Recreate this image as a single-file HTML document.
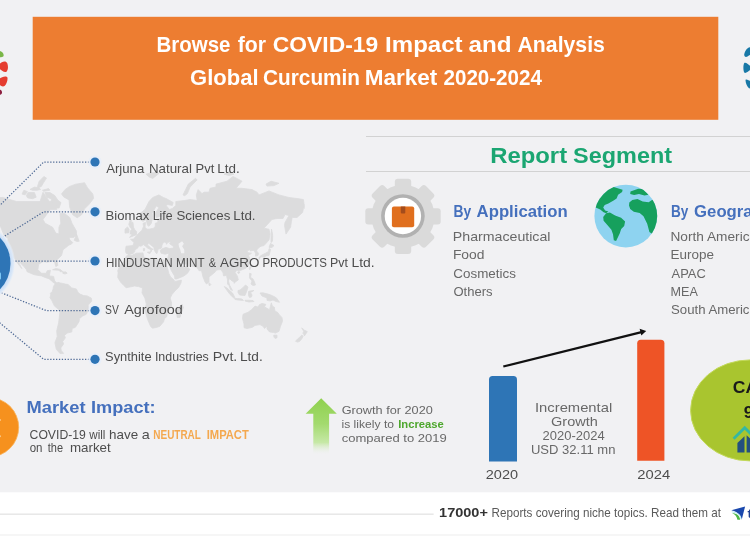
<!DOCTYPE html>
<html><head><meta charset="utf-8"><title>Global Curcumin Market 2020-2024</title>
<style>html,body{margin:0;padding:0;background:#fff}body{width:750px;height:536px;overflow:hidden;font-family:"Liberation Sans",sans-serif}#stage{position:relative;width:750px;height:536px;overflow:hidden}#stage svg{position:absolute;left:-20px;top:-20px;display:block;filter:blur(0.6px)}</style></head>
<body>
<div id="stage">
<svg width="790" height="576" viewBox="-20 -20 790 576" font-family="Liberation Sans, sans-serif">
<defs>
<linearGradient id="ga" x1="0" y1="0" x2="0" y2="1"><stop offset="0" stop-color="#8fd14f"/><stop offset="0.45" stop-color="#a3da6e"/><stop offset="0.78" stop-color="#c6e8a6"/><stop offset="1" stop-color="#f1f1f3" stop-opacity="0"/></linearGradient>
<radialGradient id="glow" cx="0.5" cy="0.5" r="0.5"><stop offset="0.88" stop-color="#c9def7"/><stop offset="0.95" stop-color="#dde9f8"/><stop offset="1" stop-color="#eef1f6" stop-opacity="0"/></radialGradient>
<clipPath id="gc"><circle cx="625.8" cy="216.1" r="31.4"/></clipPath>
</defs>
<rect x="-20" y="-20" width="790" height="576" fill="#fff"/>
<rect x="-20" y="-20" width="790" height="512.3" fill="#f1f1f3"/>
<path d="M-38.9,205.5 -32.6,197.5 -26.4,194.9 -10.7,197.5 2.9,197.5 16.5,201.5 23.9,201.5 40.1,201.5 43.0,192.2 49.4,201.5 55.8,199.5 56.8,209.5 50.4,209.5 43.0,219.4 45.1,223.3 52.6,227.2 55.8,233.1 58.9,234.1 58.9,227.2 60.8,223.3 60.0,213.5 64.5,213.5 69.8,217.5 72.0,223.3 76.5,231.2 76.5,235.1 73.5,237.4 69.0,237.4 69.8,240.0 72.8,242.5 71.2,244.3 69.0,245.0 66.0,247.4 63.0,249.8 61.5,255.5 56.8,260.0 57.9,265.4 55.8,266.5 54.7,262.2 52.6,261.1 47.2,262.2 43.0,261.6 38.6,264.3 37.9,269.7 41.5,273.3 46.2,273.3 47.2,270.7 50.4,270.2 49.4,275.9 53.6,276.4 54.7,281.0 56.8,283.0 58.9,282.5 60.8,284.0 60.0,285.0 57.9,284.5 54.7,283.5 51.5,281.0 49.4,278.9 45.1,277.4 41.5,275.9 34.3,274.8 27.0,271.7 26.5,269.7 23.9,266.5 19.7,262.2 17.1,259.4 19.7,264.3 21.8,268.6 17.6,263.3 14.4,258.3 10.8,256.1 9.2,253.2 7.1,249.8 7.1,242.5 8.2,238.7 4.0,235.1 0.8,227.2 -3.3,221.4 -7.5,218.5 -15.9,216.5 -22.2,219.4 -24.3,223.3 -30.5,226.3 -34.7,228.2 -28.4,220.4 -32.6,219.4 -35.8,213.5 -31.6,209.5 -35.8,208.5ZM74.2,240.3 76.5,234.1 79.2,241.2 77.0,241.5ZM49.9,192.5 54.8,195.6 57.9,200.2 61.0,202.6 59.1,208.0 56.0,208.0 53.0,204.9 51.1,198.7 46.8,197.2 44.9,192.5ZM26.3,195.6 28.2,192.5 34.4,192.5 36.2,197.2 32.5,198.7 27.6,197.9ZM37.5,186.4 39.1,181.4 43.9,176.5 46.5,178.1 43.3,183.1 41.4,186.4 38.1,188.0ZM22.0,194.1 23.9,190.2 27.6,191.7 25.1,194.8ZM30.0,189.4 34.4,187.1 38.7,187.8 40.6,189.4 37.5,190.2 32.5,190.2ZM42.4,190.2 48.6,188.6 49.9,190.2 43.7,191.3ZM53.5,286.3 55.4,283.6 58.1,282.7 61.7,283.2 65.4,284.1 68.1,284.5 71.8,288.0 76.3,288.9 78.1,292.4 80.0,294.1 83.6,295.5 87.2,295.9 91.3,298.1 91.8,301.1 88.2,305.1 88.2,310.2 86.3,314.3 82.7,315.9 79.5,318.6 79.0,321.8 75.4,327.3 72.2,328.5 71.8,331.9 67.2,333.1 64.5,335.4 65.4,337.8 62.7,341.5 63.6,344.0 60.8,347.9 61.3,350.6 63.6,353.4 59.9,353.4 56.3,349.3 54.9,342.8 57.2,336.6 56.7,330.8 58.6,322.9 59.9,312.3 59.0,309.7 54.5,306.1 51.7,300.3 49.9,297.6 50.8,295.0 50.4,293.3 52.2,291.5 53.1,288.9ZM128.0,254.6 131.7,255.5 136.4,253.2 143.0,252.9 143.9,257.2 147.7,258.9 152.4,258.0 157.0,259.2 161.7,259.7 164.1,260.0 166.0,263.3 167.4,267.5 168.8,273.3 170.6,276.9 173.9,279.9 174.9,281.5 181.4,280.1 181.0,283.0 178.6,287.5 174.9,291.0 172.0,294.5 170.2,298.0 171.6,303.0 171.6,307.1 167.4,311.2 166.9,316.5 164.5,318.6 163.6,321.8 159.9,326.2 157.0,327.3 152.4,328.2 150.5,326.2 147.7,319.7 144.9,310.2 146.3,304.1 144.9,298.0 142.0,293.0 142.5,288.0 138.3,286.5 134.5,286.0 129.9,287.0 126.1,287.7 123.3,285.0 120.5,282.0 117.7,277.4 118.1,272.8 117.7,270.7 119.5,266.5 121.4,263.6 124.2,261.1 124.7,258.3ZM182.1,304.1 183.3,307.6 180.9,314.3 180.0,317.5 177.2,317.5 176.7,313.3 177.6,308.6 180.0,306.6ZM126.0,253.2 125.5,250.9 126.0,246.2 133.0,245.6 134.0,242.5 130.5,239.3 133.5,239.1 137.0,235.1 139.0,233.1 142.0,230.2 143.5,226.3 143.0,223.3 145.5,222.4 145.0,227.2 147.0,229.2 149.0,229.2 153.6,228.2 155.3,226.3 155.3,223.3 158.0,222.4 157.6,219.4 161.6,218.1 163.4,217.5 159.8,216.5 156.2,217.5 155.3,213.5 158.9,207.5 156.2,205.9 152.2,213.5 152.7,217.5 151.3,223.3 149.0,226.3 147.5,225.3 146.0,219.4 143.0,221.4 140.0,219.4 140.0,213.5 145.0,209.5 149.0,201.5 152.7,197.5 158.9,194.9 163.4,197.5 166.0,198.5 173.2,202.5 172.3,205.5 167.8,204.5 166.0,205.5 169.6,209.5 172.3,208.5 175.8,205.5 175.8,201.5 184.7,200.5 190.1,199.5 197.2,200.5 196.3,194.9 198.1,189.6 202.0,193.6 204.0,192.2 209.0,192.2 210.0,188.3 216.0,187.0 216.0,184.1 227.0,181.2 233.0,176.4 242.0,181.2 236.0,188.3 242.0,188.3 252.0,189.6 257.0,192.2 259.0,194.9 269.0,190.9 279.0,194.9 289.0,197.5 297.0,198.5 303.4,199.5 304.0,203.5 304.4,205.5 304.1,208.5 303.6,207.5 303.4,208.5 302.6,212.5 297.0,217.5 292.2,217.5 291.4,221.4 290.6,227.2 286.0,234.1 284.5,225.3 285.0,222.4 289.0,215.5 285.0,214.5 283.0,218.5 277.0,218.5 272.0,219.4 264.0,228.2 269.0,229.2 270.0,234.1 269.0,240.0 264.0,245.6 261.0,246.2 259.0,247.4 257.0,249.8 256.5,250.9 258.5,253.2 258.0,255.5 255.5,256.1 255.5,253.2 254.0,250.3 250.0,250.9 251.0,249.2 247.0,250.9 248.0,252.7 251.5,253.2 248.5,255.5 250.0,258.9 251.0,261.1 249.0,264.9 246.0,268.1 242.5,269.7 239.5,270.7 237.0,270.2 235.0,272.3 237.5,276.4 238.3,279.9 236.0,281.5 234.0,283.3 234.0,281.5 232.0,281.0 229.5,278.4 228.5,281.0 229.5,285.0 232.5,290.5 230.5,289.5 229.0,285.5 227.5,284.0 227.5,279.9 226.5,275.4 223.5,275.9 223.0,272.8 221.0,269.7 219.0,269.7 216.0,270.2 215.5,271.7 211.0,275.4 209.0,276.9 209.0,282.0 206.5,284.0 205.0,282.0 203.0,276.9 202.0,272.8 201.5,270.7 199.0,270.7 198.1,269.3 196.3,267.0 191.9,266.3 187.4,266.0 187.0,264.3 182.1,263.5 181.2,261.1 179.4,261.1 179.8,262.7 181.2,264.9 182.5,267.0 184.7,267.5 186.8,265.4 187.0,267.0 189.9,269.1 187.9,272.8 185.6,274.8 183.0,276.4 176.7,278.9 174.9,278.9 174.5,275.9 171.4,270.7 169.6,266.5 167.8,263.3 167.4,261.6 165.6,261.1 165.6,260.0 167.4,259.4 168.7,254.4 168.7,253.2 165.1,254.2 163.4,253.8 161.1,253.2 160.2,250.3 162.5,248.6 166.0,247.4 169.6,248.6 173.6,248.0 173.2,246.2 169.6,243.7 170.9,241.2 167.8,242.5 166.5,244.3 166.0,242.5 163.8,241.9 162.0,245.0 161.6,248.0 159.8,248.8 158.0,249.2 157.6,252.1 156.7,253.8 155.3,252.1 154.0,249.2 154.0,247.4 150.0,244.3 148.5,243.1 147.5,245.0 150.9,248.0 153.1,249.5 151.8,249.2 151.3,251.5 150.6,252.1 150.9,249.8 147.5,248.0 145.5,246.2 143.5,244.6 141.0,246.2 138.5,245.8 138.0,247.7 135.0,249.8 134.5,252.1 133.0,253.5 129.5,254.4ZM129.5,237.4 136.5,234.7 136.7,231.5 135.0,230.2 133.5,227.2 133.0,222.4 131.0,222.0 131.5,220.2 130.0,220.2 128.8,224.3 130.0,227.2 132.0,229.2 130.5,230.6 130.5,233.1 129.8,233.7 132.0,234.5ZM125.0,233.1 129.0,232.7 129.0,229.2 127.5,226.9 125.0,229.2ZM259.0,259.4 260.5,257.2 262.0,256.7 264.5,257.2 266.0,255.9 269.0,255.5 270.0,252.1 270.5,249.2 269.0,248.6 268.5,251.5 265.5,253.2 262.0,255.0 260.0,256.3 259.0,257.8ZM269.0,247.4 270.5,243.4 274.0,245.6 272.0,247.4ZM271.0,242.5 271.0,237.4 271.5,229.2 272.7,235.1 272.5,241.2ZM209.0,282.5 210.8,284.5 209.5,286.0 208.8,284.0ZM250.0,266.5 251.0,267.0 249.8,269.7 249.2,268.6ZM238.0,271.7 240.0,271.9 239.0,273.5 237.7,273.0ZM249.5,273.3 251.2,273.8 250.5,277.4 253.0,278.9 254.5,282.0 255.5,285.0 253.0,285.5 251.0,284.0 252.0,281.0 249.5,277.9ZM238.0,290.5 240.0,290.0 242.5,288.0 245.5,285.0 248.0,287.0 246.8,291.0 245.0,295.5 242.0,295.3 239.5,295.0 238.0,292.5ZM224.3,286.5 227.0,288.0 232.5,293.0 235.0,297.8 233.5,297.8 230.0,294.5 227.0,290.5ZM234.5,298.5 237.5,298.5 242.0,299.0 243.5,300.5 238.0,300.0 235.0,299.5ZM245.0,300.3 249.0,300.3 253.0,300.5 254.0,301.5 249.0,302.0 245.0,301.0ZM248.5,291.5 250.0,291.0 254.0,290.5 250.5,292.5 252.0,295.0 251.5,297.0 249.5,297.5 248.5,295.5ZM260.0,293.0 263.0,292.8 267.0,293.8 270.0,294.7 274.0,296.5 276.5,298.0 279.5,302.3 276.0,301.5 273.0,300.0 270.0,301.0 267.0,300.3 267.0,298.0 262.0,296.0 261.0,294.5ZM243.0,314.3 242.5,318.6 244.0,324.0 244.0,327.7 247.0,328.5 252.5,327.3 255.0,325.4 260.0,324.6 263.0,326.2 264.5,328.5 267.0,326.2 267.0,329.0 269.5,331.9 273.5,332.5 275.5,333.1 279.0,331.3 280.5,326.2 282.5,321.3 282.0,317.5 279.5,314.9 277.5,312.3 275.0,311.2 274.3,307.1 272.5,306.4 271.3,302.8 270.5,306.1 269.5,309.7 266.5,308.1 264.5,306.9 265.8,304.3 262.0,303.5 259.5,304.6 258.0,307.1 255.0,306.1 251.5,309.7 248.0,312.3ZM273.7,335.2 277.0,335.2 277.0,337.8 275.0,338.4 274.0,337.2ZM301.7,327.9 304.5,330.2 307.3,331.6 306.0,333.7 304.3,336.0 303.8,334.0 302.8,333.4 303.7,331.3ZM301.8,335.0 303.2,336.3 301.8,338.8 299.5,341.5 297.5,342.1 295.5,341.3 297.5,339.0 300.0,337.0ZM183.0,194.9 185.6,189.6 188.3,184.1 195.4,178.4 197.2,179.8 190.1,187.0 187.4,193.6 184.7,195.7ZM146.0,174.2 150.0,173.0 156.2,172.6 158.9,173.6 152.7,178.4 149.0,176.9ZM52.6,269.7 55.8,268.6 60.0,269.3 62.8,271.5 60.4,271.8 58.9,270.2 53.6,269.9ZM62.8,271.9 66.0,271.9 67.1,273.3 64.9,274.0 62.8,273.3ZM147.5,252.1 150.4,251.9 150.0,253.6 147.7,252.7ZM143.3,248.6 144.7,248.6 144.5,250.7 143.5,250.9ZM266.0,184.1 271.0,181.2 279.0,183.3 274.0,185.6 267.0,186.1ZM224.0,174.2 229.0,171.8 234.0,174.2 229.0,175.5ZM61.5,193.9 65.2,189.4 69.7,186.4 75.7,184.2 84.6,182.7 87.6,187.9 92.8,193.9 93.6,198.4 89.1,204.3 84.6,208.8 81.6,214.8 77.2,217.8 72.7,214.8 69.7,207.3 69.0,199.9 63.7,196.9Z" fill="#dcdcdd" stroke="#dcdcdd" stroke-width="0.8" stroke-linejoin="round"/>
<path d="M178.5,243.7 182.1,241.2 183.9,243.7 182.1,246.2 184.3,249.8 184.3,253.2 181.2,253.2 180.3,249.8 179.0,246.8Z" fill="#f1f1f3"/>
<rect x="32.7" y="16.8" width="685.6" height="103" fill="#ed7d31"/>
<path d="M-8,50 C1,49.5 4,53 3.6,56 C3,57.5 0,57.5 -8,57Z" fill="#7ab648"/>
<path d="M-8,68 L-1,64.5 C2,61 6,60.5 7.2,63 C8.4,66 8.2,70 6.5,71.8 C4.5,73 1,70 -1,68.5Z" fill="#e53d30"/>
<path d="M-8,82 L-1,79 C2,76.5 6.5,75.5 7.4,77.5 C8,80 6.5,84.5 4.5,86 C2.5,87.2 0.5,85.5 -1,84.5Z" fill="#e53d30"/>
<path d="M-8,89.5 L-1,89.5 C1,89.5 2.2,91 2,93 C1.6,94.6 0,95 -1,95 L-8,95Z" fill="#8c1f3f"/>
<path d="M758,45 L751,47 C748,47 745,50 744.2,54.5 C744,56.5 745.5,57.5 747.5,56.5 C749,55.5 750,54.5 751,54.5 L758,54Z" fill="#1878a6"/>
<path d="M758,68 L751,66.5 C748.5,64.5 746,62.2 744.5,62.8 C743,64 743,71.5 744.5,72.8 C746,73.6 748.5,71 751,69.5Z" fill="#1878a6"/>
<path d="M758,82 L751,81.5 C749,80.5 746.5,79 745.6,79.8 C745.2,82 747,86.5 749,88.3 C749.8,88.8 750.5,88 751,87.5 L758,88Z" fill="#1878a6"/>
<path d="M95,162 H43.7 L-10,215.1" fill="none" stroke="#506b96" stroke-width="1.25" stroke-dasharray="1.3 1.6"/>
<path d="M95,211.8 H43.7 L-10,245.1" fill="none" stroke="#506b96" stroke-width="1.25" stroke-dasharray="1.3 1.6"/>
<path d="M95,261 H8" fill="none" stroke="#506b96" stroke-width="1.25" stroke-dasharray="1.3 1.6"/>
<path d="M95,310.6 H46.2 L-10,288.2" fill="none" stroke="#506b96" stroke-width="1.25" stroke-dasharray="1.3 1.6"/>
<path d="M95,359.3 H43.7 L-10,314.8" fill="none" stroke="#506b96" stroke-width="1.25" stroke-dasharray="1.3 1.6"/>
<circle cx="-26.5" cy="263.5" r="42" fill="url(#glow)"/>
<circle cx="-26.5" cy="263.5" r="37" fill="#2e75b6"/>
<rect x="-6" y="272.5" width="7" height="7" rx="1" fill="#7cc7f5"/>
<circle cx="95" cy="162" r="6.6" fill="#e6eefa" opacity="0.85"/>
<circle cx="95" cy="162" r="4.6" fill="#2e75b6"/>
<circle cx="95" cy="211.8" r="6.6" fill="#e6eefa" opacity="0.85"/>
<circle cx="95" cy="211.8" r="4.6" fill="#2e75b6"/>
<circle cx="95" cy="261" r="6.6" fill="#e6eefa" opacity="0.85"/>
<circle cx="95" cy="261" r="4.6" fill="#2e75b6"/>
<circle cx="95" cy="310.6" r="6.6" fill="#e6eefa" opacity="0.85"/>
<circle cx="95" cy="310.6" r="4.6" fill="#2e75b6"/>
<circle cx="95" cy="359.3" r="6.6" fill="#e6eefa" opacity="0.85"/>
<circle cx="95" cy="359.3" r="4.6" fill="#2e75b6"/>
<rect x="366" y="136" width="400" height="1" fill="#d2d2d2"/>
<rect x="366" y="171" width="400" height="1" fill="#d2d2d2"/>
<g fill="#dadada">
<circle cx="403.0" cy="216.4" r="31.6"/>
<rect x="394.8" y="178.7" width="16.4" height="75.4" rx="3" transform="rotate(0 403.0 216.4)"/>
<rect x="394.8" y="178.7" width="16.4" height="75.4" rx="3" transform="rotate(45 403.0 216.4)"/>
<rect x="394.8" y="178.7" width="16.4" height="75.4" rx="3" transform="rotate(90 403.0 216.4)"/>
<rect x="394.8" y="178.7" width="16.4" height="75.4" rx="3" transform="rotate(135 403.0 216.4)"/>
</g>
<circle cx="402.9" cy="216" r="21.8" fill="#b1b1b1"/>
<circle cx="402.9" cy="216" r="18.2" fill="#fff"/>
<rect x="391.9" y="206.4" width="22.3" height="20.8" rx="2" fill="#e06f1e"/>
<path d="M400.8,206.4 h4.5 v6.2 a1,1 0 0 1 -1,1 h-2.5 a1,1 0 0 1 -1,-1Z" fill="#a34c1c"/>
<circle cx="625.8" cy="216.1" r="31.4" fill="#8ed3f0"/>
<g clip-path="url(#gc)" fill="#16a05d">
<path d="M612.1,186.4 622.6,189.7 622.1,192.1 618.1,194.7 616.6,198.4 613.6,200.6 608.4,203.6 604.7,205.1 603.2,207.6 605.1,210.6 608.4,211.5 606.1,213.3 603.6,212.3 600.2,209.6 592.0,205.9 592.0,185.0Z"/>
<path d="M603.2,217.0 606.1,213.3 609.9,212.6 615.1,215.6 621.1,217.8 625.1,221.5 624.2,226.0 621.2,229.0 619.7,233.5 616.1,240.9 613.8,240.2 613.0,234.2 611.4,229.7 606.9,224.5 603.6,220.8Z"/>
<path d="M630.5,191.4 638.2,188.7 643.5,189.1 648.4,194.7 644.5,195.6 639.0,193.9 634.1,195.0 630.2,193.9Z"/>
<path d="M629.3,202.6 632.3,199.9 637.5,199.0 642.7,201.4 648.7,202.3 652.0,199.9 660.6,198.4 660.6,235.7 652.4,233.9 649.4,232.0 647.2,223.8 643.5,216.3 639.7,212.9 633.8,211.8 630.2,209.1 629.0,205.4Z"/>
</g>
<path d="M489,461.6 V379.7 a3.6,3.6 0 0 1 3.6,-3.6 h20.8 a3.6,3.6 0 0 1 3.6,3.6 V461.6Z" fill="#2e75b6"/>
<path d="M637.2,460.8 V343.3 a3.6,3.6 0 0 1 3.6,-3.6 h20 a3.6,3.6 0 0 1 3.6,3.6 V460.8Z" fill="#ee5426"/>
<path d="M503.3,366.5 L641.5,332.2" stroke="#111" stroke-width="2.3" fill="none"/>
<path d="M646.2,331 L639.6,328.8 L641.3,335.6Z" fill="#111"/>
<path d="M321.2,398.2 L336.8,413.8 H329.1 V455 H313.3 V413.8 H305.6Z" fill="url(#ga)"/>
<circle cx="-10.9" cy="427.3" r="29.6" fill="#f6911e" stroke="#f9b45c" stroke-width="0.8"/>
<rect x="-6" y="419" width="7" height="2" rx="1" fill="#fbc98a"/><rect x="-6" y="435.2" width="7" height="2" rx="1" fill="#fbc98a"/>
<ellipse cx="750" cy="410.4" rx="59.4" ry="50.5" fill="#a9c52f" stroke="#c3d95a" stroke-width="1"/>
<path d="M733.6,438.8 L744.7,427.7 L757,440" fill="none" stroke="#35b8a2" stroke-width="2.8" stroke-linejoin="miter"/>
<path d="M737.4,443 L744.5,436.3 V452.6 H737.4Z" fill="#24507f"/>
<path d="M746.6,435.2 L756,444 V452.6 H746.6Z" fill="#24507f"/>
<rect x="-20" y="513.6" width="453.6" height="1.1" fill="#dedede"/>
<rect x="-20" y="534" width="790" height="22" fill="#f6f6f6"/>
<path d="M731.3,510.3 L745.1,506.5 L741.7,519.8 C741.4,516 739,512.3 731.3,510.3Z" fill="#1a48ad"/>
<path d="M732.1,513 C737,513.4 739.8,516 740.2,519.8 L737.4,519.8 C737,516.8 735.2,514.6 732.1,513Z" fill="#4fb848"/>
<path d="M731.8,511.8 C738,512.6 740.6,515.6 741,519" fill="none" stroke="#9fe3f0" stroke-width="0.8"/>
<text x="156.6" y="51.8" font-size="21.8" font-weight="700" fill="#fff" textLength="73.9" lengthAdjust="spacingAndGlyphs">Browse</text>
<text x="237.8" y="51.8" font-size="21.8" font-weight="700" fill="#fff" textLength="28.3" lengthAdjust="spacingAndGlyphs">for</text>
<text x="272.8" y="51.8" font-size="21.8" font-weight="700" fill="#fff" textLength="105.4" lengthAdjust="spacingAndGlyphs">COVID-19</text>
<text x="385.1" y="51.8" font-size="21.8" font-weight="700" fill="#fff" textLength="77.5" lengthAdjust="spacingAndGlyphs">Impact</text>
<text x="468.6" y="51.8" font-size="21.8" font-weight="700" fill="#fff" textLength="43.0" lengthAdjust="spacingAndGlyphs">and</text>
<text x="517.5" y="51.8" font-size="21.8" font-weight="700" fill="#fff" textLength="87.4" lengthAdjust="spacingAndGlyphs">Analysis</text>
<text x="190.1" y="85.1" font-size="22.2" font-weight="700" fill="#fff" textLength="68.5" lengthAdjust="spacingAndGlyphs">Global</text>
<text x="263.1" y="85.1" font-size="22.2" font-weight="700" fill="#fff" textLength="96.9" lengthAdjust="spacingAndGlyphs">Curcumin</text>
<text x="364.8" y="85.1" font-size="22.2" font-weight="700" fill="#fff" textLength="72.5" lengthAdjust="spacingAndGlyphs">Market</text>
<text x="443.5" y="85.1" font-size="22.2" font-weight="700" fill="#fff" textLength="98.4" lengthAdjust="spacingAndGlyphs">2020-2024</text>
<text x="106.2" y="172.8" font-size="12.7" font-weight="400" fill="#4d4d4d" textLength="38.1" lengthAdjust="spacingAndGlyphs">Arjuna</text>
<text x="148.9" y="172.8" font-size="12.7" font-weight="400" fill="#4d4d4d" textLength="43.0" lengthAdjust="spacingAndGlyphs">Natural</text>
<text x="195.5" y="172.8" font-size="12.7" font-weight="400" fill="#4d4d4d" textLength="18.8" lengthAdjust="spacingAndGlyphs">Pvt</text>
<text x="217.3" y="172.8" font-size="12.7" font-weight="400" fill="#4d4d4d" textLength="22.4" lengthAdjust="spacingAndGlyphs">Ltd.</text>
<text x="105.6" y="219.9" font-size="12.7" font-weight="400" fill="#4d4d4d" textLength="43.7" lengthAdjust="spacingAndGlyphs">Biomax</text>
<text x="152.8" y="219.9" font-size="12.7" font-weight="400" fill="#4d4d4d" textLength="19.8" lengthAdjust="spacingAndGlyphs">Life</text>
<text x="176.4" y="219.9" font-size="12.7" font-weight="400" fill="#4d4d4d" textLength="53.9" lengthAdjust="spacingAndGlyphs">Sciences</text>
<text x="233.3" y="219.9" font-size="12.7" font-weight="400" fill="#4d4d4d" textLength="22.3" lengthAdjust="spacingAndGlyphs">Ltd.</text>
<text x="106.0" y="267.1" font-size="12.7" font-weight="400" fill="#4d4d4d" textLength="66.6" lengthAdjust="spacingAndGlyphs">HINDUSTAN</text>
<text x="176.1" y="267.1" font-size="12.7" font-weight="400" fill="#4d4d4d" textLength="28.4" lengthAdjust="spacingAndGlyphs">MINT</text>
<text x="208.8" y="267.1" font-size="12.7" font-weight="400" fill="#4d4d4d" textLength="7.4" lengthAdjust="spacingAndGlyphs">&amp;</text>
<text x="220.1" y="267.1" font-size="12.7" font-weight="400" fill="#4d4d4d" textLength="39.3" lengthAdjust="spacingAndGlyphs">AGRO</text>
<text x="262.4" y="267.1" font-size="12.7" font-weight="400" fill="#4d4d4d" textLength="64.5" lengthAdjust="spacingAndGlyphs">PRODUCTS</text>
<text x="330.1" y="267.1" font-size="12.7" font-weight="400" fill="#4d4d4d" textLength="17.9" lengthAdjust="spacingAndGlyphs">Pvt</text>
<text x="351.5" y="267.1" font-size="12.7" font-weight="400" fill="#4d4d4d" textLength="23.2" lengthAdjust="spacingAndGlyphs">Ltd.</text>
<text x="105.1" y="314.3" font-size="12.7" font-weight="400" fill="#4d4d4d" textLength="13.8" lengthAdjust="spacingAndGlyphs">SV</text>
<text x="124.2" y="314.3" font-size="12.7" font-weight="400" fill="#4d4d4d" textLength="58.5" lengthAdjust="spacingAndGlyphs">Agrofood</text>
<text x="105.1" y="361.2" font-size="12.7" font-weight="400" fill="#4d4d4d" textLength="46.5" lengthAdjust="spacingAndGlyphs">Synthite</text>
<text x="154.9" y="361.2" font-size="12.7" font-weight="400" fill="#4d4d4d" textLength="53.9" lengthAdjust="spacingAndGlyphs">Industries</text>
<text x="212.8" y="361.2" font-size="12.7" font-weight="400" fill="#4d4d4d" textLength="24.5" lengthAdjust="spacingAndGlyphs">Pvt.</text>
<text x="239.9" y="361.2" font-size="12.7" font-weight="400" fill="#4d4d4d" textLength="22.8" lengthAdjust="spacingAndGlyphs">Ltd.</text>
<text x="490.2" y="163.0" font-size="21.5" font-weight="700" fill="#1ba672" textLength="76.9" lengthAdjust="spacingAndGlyphs">Report</text>
<text x="573.1" y="163.0" font-size="21.5" font-weight="700" fill="#1ba672" textLength="99.0" lengthAdjust="spacingAndGlyphs">Segment</text>
<text x="453.4" y="216.9" font-size="15.7" font-weight="700" fill="#4570bd" textLength="17.7" lengthAdjust="spacingAndGlyphs">By</text>
<text x="476.6" y="216.9" font-size="15.7" font-weight="700" fill="#4570bd" textLength="91.1" lengthAdjust="spacingAndGlyphs">Application</text>
<text x="452.8" y="241.2" font-size="12.4" font-weight="400" fill="#686868" textLength="97.7" lengthAdjust="spacingAndGlyphs">Pharmaceutical</text>
<text x="452.9" y="259.3" font-size="12.4" font-weight="400" fill="#686868" textLength="31.6" lengthAdjust="spacingAndGlyphs">Food</text>
<text x="453.3" y="277.5" font-size="12.4" font-weight="400" fill="#686868" textLength="62.6" lengthAdjust="spacingAndGlyphs">Cosmetics</text>
<text x="453.4" y="295.6" font-size="12.4" font-weight="400" fill="#686868" textLength="39.1" lengthAdjust="spacingAndGlyphs">Others</text>
<text x="670.9" y="217.0" font-size="15.7" font-weight="700" fill="#4570bd" textLength="17.4" lengthAdjust="spacingAndGlyphs">By</text>
<text x="694.1" y="217.0" font-size="15.7" font-weight="700" fill="#4570bd" textLength="88.3" lengthAdjust="spacingAndGlyphs">Geography</text>
<text x="670.5" y="241.3" font-size="12.4" font-weight="400" fill="#686868" textLength="86.6" lengthAdjust="spacingAndGlyphs">North America</text>
<text x="670.5" y="259.3" font-size="12.4" font-weight="400" fill="#686868" textLength="43.4" lengthAdjust="spacingAndGlyphs">Europe</text>
<text x="671.6" y="277.8" font-size="12.4" font-weight="400" fill="#686868" textLength="34.2" lengthAdjust="spacingAndGlyphs">APAC</text>
<text x="670.6" y="296.0" font-size="12.4" font-weight="400" fill="#686868" textLength="27.3" lengthAdjust="spacingAndGlyphs">MEA</text>
<text x="671.0" y="314.4" font-size="12.4" font-weight="400" fill="#686868" textLength="85.8" lengthAdjust="spacingAndGlyphs">South America</text>
<text x="26.5" y="412.5" font-size="17" font-weight="700" fill="#4570bd" textLength="59.0" lengthAdjust="spacingAndGlyphs">Market</text>
<text x="91.0" y="412.5" font-size="17" font-weight="700" fill="#4570bd" textLength="64.6" lengthAdjust="spacingAndGlyphs">Impact:</text>
<text x="29.6" y="438.6" font-size="12.2" font-weight="400" fill="#4d4d4d" textLength="56.2" lengthAdjust="spacingAndGlyphs">COVID-19</text>
<text x="89.3" y="438.6" font-size="12.2" font-weight="400" fill="#4d4d4d" textLength="16.1" lengthAdjust="spacingAndGlyphs">will</text>
<text x="109.1" y="438.6" font-size="12.2" font-weight="400" fill="#4d4d4d" textLength="29.1" lengthAdjust="spacingAndGlyphs">have</text>
<text x="141.8" y="438.6" font-size="12.2" font-weight="400" fill="#4d4d4d" textLength="8.0" lengthAdjust="spacingAndGlyphs">a</text>
<text x="153.3" y="438.5" font-size="12.4" font-weight="700" fill="#f4a84e" textLength="47.6" lengthAdjust="spacingAndGlyphs">NEUTRAL</text>
<text x="206.7" y="438.5" font-size="12.4" font-weight="700" fill="#f4a84e" textLength="42.1" lengthAdjust="spacingAndGlyphs">IMPACT</text>
<text x="29.7" y="452.1" font-size="12.2" font-weight="400" fill="#4d4d4d" textLength="12.8" lengthAdjust="spacingAndGlyphs">on</text>
<text x="47.8" y="452.1" font-size="12.2" font-weight="400" fill="#4d4d4d" textLength="15.3" lengthAdjust="spacingAndGlyphs">the</text>
<text x="69.9" y="452.1" font-size="12.2" font-weight="400" fill="#4d4d4d" textLength="40.8" lengthAdjust="spacingAndGlyphs">market</text>
<text x="341.7" y="414.3" font-size="11.8" font-weight="400" fill="#686868" textLength="91.1" lengthAdjust="spacingAndGlyphs">Growth for 2020</text>
<text x="341.5" y="428.2" font-size="11.8" font-weight="400" fill="#686868" textLength="52.5" lengthAdjust="spacingAndGlyphs">is likely to</text>
<text x="398.2" y="428.2" font-size="11.6" font-weight="700" fill="#4ea72e" textLength="45.6" lengthAdjust="spacingAndGlyphs">Increase</text>
<text x="341.7" y="442.2" font-size="11.8" font-weight="400" fill="#686868" textLength="105.1" lengthAdjust="spacingAndGlyphs">compared to 2019</text>
<text x="485.8" y="478.5" font-size="13.6" font-weight="400" fill="#4d4d4d" textLength="32.3" lengthAdjust="spacingAndGlyphs">2020</text>
<text x="637.3" y="478.5" font-size="13.6" font-weight="400" fill="#4d4d4d" textLength="32.9" lengthAdjust="spacingAndGlyphs">2024</text>
<text x="535.0" y="412.0" font-size="13" font-weight="400" fill="#686868" textLength="77.2" lengthAdjust="spacingAndGlyphs">Incremental</text>
<text x="551.1" y="426.2" font-size="13" font-weight="400" fill="#686868" textLength="46.7" lengthAdjust="spacingAndGlyphs">Growth</text>
<text x="542.6" y="440.4" font-size="13" font-weight="400" fill="#686868" textLength="62.0" lengthAdjust="spacingAndGlyphs">2020-2024</text>
<text x="530.9" y="454.4" font-size="13" font-weight="400" fill="#686868" textLength="84.5" lengthAdjust="spacingAndGlyphs">USD 32.11 mn</text>
<text x="732.8" y="393.4" font-size="16.4" font-weight="700" fill="#1a1a1a" textLength="51.5" lengthAdjust="spacingAndGlyphs">CAGR</text>
<text x="743.8" y="417.6" font-size="16.4" font-weight="700" fill="#1a1a1a" textLength="39.8" lengthAdjust="spacingAndGlyphs">9.5%</text>
<text x="439.1" y="517.2" font-size="13" font-weight="700" fill="#333" textLength="48.8" lengthAdjust="spacingAndGlyphs">17000+</text>
<text x="491.6" y="517.2" font-size="12.8" font-weight="400" fill="#5a5a5a" textLength="229.4" lengthAdjust="spacingAndGlyphs">Reports covering niche topics. Read them at</text>
<text x="747.6" y="518.0" font-size="13" font-weight="700" fill="#1f3f8f" textLength="67.7" lengthAdjust="spacingAndGlyphs">technavio</text>
</svg>
</div>
</body></html>
